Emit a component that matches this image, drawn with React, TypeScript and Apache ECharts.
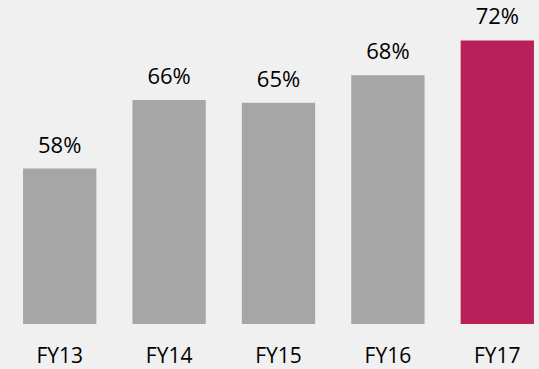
import React, { useEffect, useRef } from "react";
import * as echarts from "echarts";

const categories = ["FY13", "FY14", "FY15", "FY16", "FY17"];
const values = [58, 65.5, 65.2, 68.2, 72];
const valueLabels = ["58%", "66%", "65%", "68%", "72%"];
const barColors = ["#a6a6a6", "#a6a6a6", "#a6a6a6", "#a6a6a6", "#b92059"];

export default function App() {
  const ref = useRef<HTMLDivElement>(null);
  useEffect(() => {
    if (!ref.current) return;
    const chart = echarts.init(ref.current, null, { renderer: "svg" });
    chart.setOption({
      animation: false,
      backgroundColor: "#f0f0f0",
      grid: { left: 5, top: 13, right: 0, bottom: 45, containLabel: false },
      xAxis: {
        type: "category",
        data: categories,
        axisLine: { show: false },
        axisTick: { show: false },
        axisLabel: {
          color: "#000",
          fontFamily: "Open Sans",
          fontSize: 21,
          lineHeight: 18,
          margin: 22,
        },
      },
      yAxis: {
        type: "value",
        min: 41,
        max: 75,
        show: false,
        splitLine: { show: false },
      },
      series: [
        {
          type: "bar",
          barCategoryGap: "33%",
          data: values.map((v, i) => ({
            value: v,
            itemStyle: { color: barColors[i] },
          })),
          label: {
            show: true,
            position: "top",
            distance: 14,
            color: "#000",
            fontFamily: "Open Sans",
            fontSize: 22,
            formatter: (p: any) => valueLabels[p.dataIndex],
          },
        },
      ],
    });
    return () => chart.dispose();
  }, []);
  return (
    <div style={{ position: "fixed", left: 0, top: 0, width: 539, height: 369, overflow: "hidden", background: "#f0f0f0" }}>
      <div ref={ref} style={{ width: 552, height: 369 }} />
    </div>
  );
}
